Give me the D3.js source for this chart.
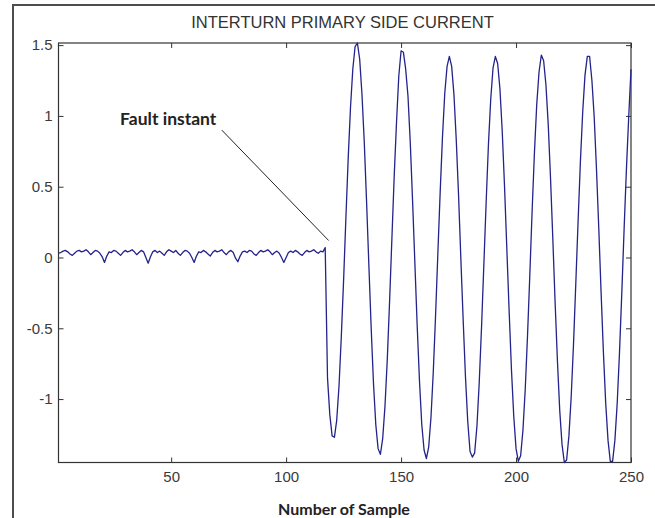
<!DOCTYPE html>
<html>
<head>
<meta charset="utf-8">
<script src="https://cdn.jsdelivr.net/npm/d3@7"></script>
<style>
  html, body { margin: 0; padding: 0; background: #fff; }
  svg { display: block; }
</style>
</head>
<body>
<script>
// ---- Data ----
const chartTitle = "INTERTURN PRIMARY SIDE CURRENT";
const xLabel = "Number of Sample";
const xTicks = [50, 100, 150, 200, 250];
const yTicks = [-1, -0.5, 0, 0.5, 1, 1.5];
const yTickLabels = ["-1", "-0.5", "0", "0.5", "1", "1.5"];

// samples 1..117 (before the fault)
const preFault = [
  0.03,0.035,0.045,0.05,0.04,0.025,0.015,0.03,0.045,0.05,
  0.04,0.045,0.055,0.04,0.02,0.035,0.05,0.045,0.03,0.005,
  -0.035,0.01,0.04,0.035,0.05,0.045,0.03,0.015,0.035,0.05,
  0.04,0.045,0.055,0.04,0.02,0.035,0.05,0.04,0.0,-0.04,
  0.005,0.04,0.05,0.035,0.045,0.03,0.015,0.04,0.055,0.045,
  0.035,0.05,0.03,0.015,0.035,0.05,0.045,0.03,0.0,-0.035,
  0.01,0.04,0.035,0.05,0.04,0.025,0.01,0.035,0.05,0.04,
  0.045,0.055,0.035,0.02,0.04,0.05,0.035,-0.005,-0.03,0.01,
  0.04,0.045,0.035,0.05,0.045,0.025,0.015,0.035,0.05,0.04,
  0.045,0.055,0.04,0.02,0.035,0.045,0.03,0.0,-0.035,0.0,
  0.035,0.045,0.035,0.05,0.04,0.025,0.015,0.035,0.05,0.04,
  0.045,0.055,0.04,0.03,0.045,0.04,0.07
];
// samples 118..250 (after the fault)
const postFault = [
  -0.85,-1.11,-1.26,-1.27,-1.15,-0.91,-0.56,-0.16,0.28,0.70,
  1.06,1.33,1.49,1.515,1.40,1.15,0.81,0.39,-0.06,-0.50,
  -0.89,-1.18,-1.35,-1.39,-1.28,-1.05,-0.72,-0.31,0.13,0.57,
  0.95,1.28,1.46,1.45,1.33,1.14,0.81,0.40,-0.04,-0.48,
  -0.87,-1.18,-1.36,-1.42,-1.34,-1.13,-0.81,-0.41,0.03,0.46,
  0.85,1.16,1.35,1.42,1.35,1.15,0.83,0.44,-0.01,-0.44,
  -0.84,-1.16,-1.37,-1.41,-1.38,-1.19,-0.88,-0.49,-0.05,0.39,
  0.80,1.12,1.34,1.42,1.37,1.19,0.89,0.50,0.06,-0.38,
  -0.79,-1.12,-1.35,-1.44,-1.40,-1.22,-0.93,-0.55,-0.12,0.33,
  0.74,1.08,1.31,1.43,1.39,1.22,0.94,0.56,0.13,-0.32,
  -0.73,-1.08,-1.32,-1.448,-1.43,-1.26,-0.98,-0.61,-0.18,0.26,
  0.68,1.03,1.29,1.42,1.42,1.25,0.99,0.62,0.20,-0.25,
  -0.67,-1.03,-1.29,-1.44,-1.44,-1.29,-1.03,-0.67,-0.25,0.20,
  0.62,0.99,1.33
];
// annotation (in data units)
const faultText = "Fault instant";
const faultTextAt = [27.8, 0.935];
const faultLineFrom = [72, 0.90];
const faultLineTo = [118.5, 0.12];

// ---- Chart ----
const W = 655, H = 518;
const plot = { left: 58.5, right: 631, top: 43, bottom: 462.5 };
const current = preFault.concat(postFault);
const series = current.map((v, i) => ({ n: i + 1, v }));

const x = d3.scaleLinear().domain([1, current.length]).range([plot.left, plot.right]);
const y = d3.scaleLinear().domain(d3.extent(current)).range([plot.bottom, plot.top]);

const svg = d3.select("body").append("svg").attr("width", W).attr("height", H);

// outer frame (left + top edges of the figure screenshot)
svg.append("path")
  .attr("d", `M13,${H} V5 H${W}`)
  .attr("fill", "none").attr("stroke", "#4d4d4d").attr("stroke-width", 2);

// title
svg.append("text")
  .attr("x", 342.5).attr("y", 28.3)
  .attr("text-anchor", "middle")
  .attr("font-family", "Liberation Sans, Arial, sans-serif")
  .attr("font-size", 16.5).attr("fill", "#333")
  .text(chartTitle);

const axisColor = "#333";
const tickFont = "Liberation Sans, Arial, sans-serif";

function styleAxis(g) {
  g.select(".domain").remove();
  g.selectAll(".tick line").attr("stroke", axisColor);
  g.selectAll(".tick text").attr("font-family", tickFont).attr("font-size", 15).attr("fill", "#3a3a3a");
}

// bottom axis
svg.append("g").attr("transform", `translate(0,${plot.bottom})`)
  .call(d3.axisBottom(x).tickValues(xTicks).tickSizeInner(-5).tickSizeOuter(0).tickPadding(9))
  .call(styleAxis);
// top axis (ticks only)
svg.append("g").attr("transform", `translate(0,${plot.top})`)
  .call(d3.axisTop(x).tickValues(xTicks).tickSizeInner(-5).tickSizeOuter(0).tickFormat(""))
  .call(styleAxis);
// left axis
svg.append("g").attr("transform", `translate(${plot.left},0)`)
  .call(d3.axisLeft(y).tickValues(yTicks).tickSizeInner(-5).tickSizeOuter(0).tickPadding(6)
    .tickFormat((d, i) => yTickLabels[i]))
  .call(styleAxis);
// right axis (ticks only)
svg.append("g").attr("transform", `translate(${plot.right},0)`)
  .call(d3.axisRight(y).tickValues(yTicks).tickSizeInner(-5).tickSizeOuter(0).tickFormat(""))
  .call(styleAxis);

// axes box
svg.append("rect")
  .attr("x", plot.left).attr("y", plot.top)
  .attr("width", plot.right - plot.left).attr("height", plot.bottom - plot.top)
  .attr("fill", "none").attr("stroke", axisColor).attr("stroke-width", 1.2);

// signal
svg.append("path")
  .datum(series)
  .attr("fill", "none")
  .attr("stroke", "#23238a")
  .attr("stroke-width", 1.3)
  .attr("stroke-linejoin", "round")
  .attr("d", d3.line().x(d => x(d.n)).y(d => y(d.v)));

// annotation
svg.append("line")
  .attr("x1", x(faultLineFrom[0])).attr("y1", y(faultLineFrom[1]))
  .attr("x2", x(faultLineTo[0])).attr("y2", y(faultLineTo[1]))
  .attr("stroke", "#222").attr("stroke-width", 1);
svg.append("text")
  .attr("x", x(faultTextAt[0])).attr("y", y(faultTextAt[1]))
  .attr("font-family", "Lato, 'Open Sans', sans-serif")
  .attr("font-weight", "bold").attr("font-size", 17.5).attr("fill", "#222")
  .text(faultText);

// x label
svg.append("text")
  .attr("x", 344).attr("y", 514.5)
  .attr("text-anchor", "middle")
  .attr("font-family", "Lato, 'Open Sans', sans-serif")
  .attr("font-weight", "bold").attr("font-size", 16).attr("fill", "#222")
  .text(xLabel);
</script>
</body>
</html>
